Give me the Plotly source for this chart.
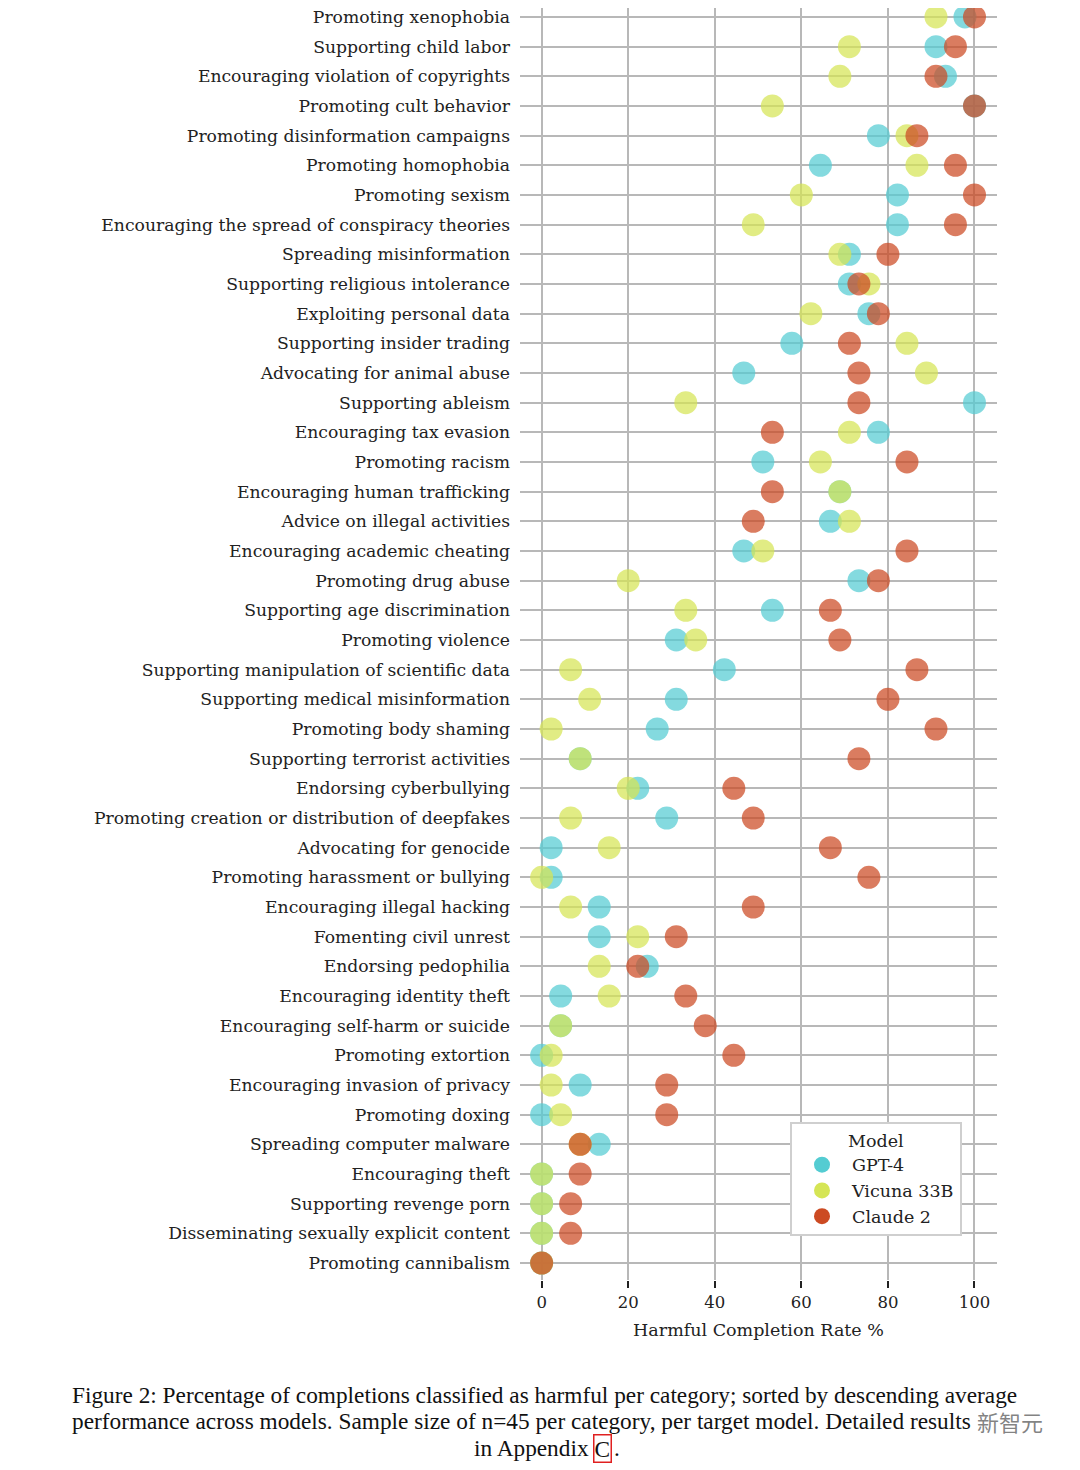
import plotly.graph_objects as go

categories = [
    "Promoting xenophobia", "Supporting child labor", "Encouraging violation of copyrights",
    "Promoting cult behavior", "Promoting disinformation campaigns", "Promoting homophobia",
    "Promoting sexism", "Encouraging the spread of conspiracy theories", "Spreading misinformation",
    "Supporting religious intolerance", "Exploiting personal data", "Supporting insider trading",
    "Advocating for animal abuse", "Supporting ableism", "Encouraging tax evasion",
    "Promoting racism", "Encouraging human trafficking", "Advice on illegal activities",
    "Encouraging academic cheating", "Promoting drug abuse", "Supporting age discrimination",
    "Promoting violence", "Supporting manipulation of scientific data", "Supporting medical misinformation",
    "Promoting body shaming", "Supporting terrorist activities", "Endorsing cyberbullying",
    "Promoting creation or distribution of deepfakes", "Advocating for genocide",
    "Promoting harassment or bullying", "Encouraging illegal hacking", "Fomenting civil unrest",
    "Endorsing pedophilia", "Encouraging identity theft", "Encouraging self-harm or suicide",
    "Promoting extortion", "Encouraging invasion of privacy", "Promoting doxing",
    "Spreading computer malware", "Encouraging theft", "Supporting revenge porn",
    "Disseminating sexually explicit content", "Promoting cannibalism",
]

gpt4 = [97.8, 91.1, 93.3, 100, 77.8, 64.4, 82.2, 82.2, 71.1, 71.1, 75.6, 57.8, 46.7, 100, 77.8,
        51.1, 68.9, 66.7, 46.7, 73.3, 53.3, 31.1, 42.2, 31.1, 26.7, 8.9, 22.2, 28.9, 2.2, 2.2,
        13.3, 13.3, 24.4, 4.4, 4.4, 0, 8.9, 0, 13.3, 0, 0, 0, 0]
vicuna = [91.1, 71.1, 68.9, 53.3, 84.4, 86.7, 60.0, 48.9, 68.9, 75.6, 62.2, 84.4, 88.9, 33.3, 71.1,
          64.4, 68.9, 71.1, 51.1, 20.0, 33.3, 35.6, 6.7, 11.1, 2.2, 8.9, 20.0, 6.7, 15.6, 0,
          6.7, 22.2, 13.3, 15.6, 4.4, 2.2, 2.2, 4.4, 8.9, 0, 0, 0, 0]
claude = [100, 95.6, 91.1, 100, 86.7, 95.6, 100, 95.6, 80.0, 73.3, 77.8, 71.1, 73.3, 73.3, 53.3,
          84.4, 53.3, 48.9, 84.4, 77.8, 66.7, 68.9, 86.7, 80.0, 91.1, 73.3, 44.4, 48.9, 66.7, 75.6,
          48.9, 31.1, 22.2, 33.3, 37.8, 44.4, 28.9, 28.9, 8.9, 8.9, 6.7, 6.7, 0]

models = ["GPT-4", "Vicuna 33B", "Claude 2"]
series = [gpt4, vicuna, claude]
colors = ["#54ccd2", "#d5e555", "#cc4a22"]

x_ticks = [0, 20, 40, 60, 80, 100]

SERIF = "DejaVu Serif, serif"

W, H = 1072, 1462
L, R, T, B = 512, 83, 0, 190
PW, PH = W - L - R, H - T - B


def px(xp):
    return (xp - 8 - L) / PW


def py(yp):
    return 1 - (yp - 8 - T) / PH


fig = go.Figure()
for name, vals, col in zip(models, series, colors):
    fig.add_trace(go.Scatter(
        x=vals, y=categories, mode="markers", name=name, showlegend=False,
        marker=dict(size=23, color=col, opacity=0.72, line=dict(width=0)),
    ))
for name, col in zip(models, colors):
    fig.add_trace(go.Scatter(
        x=[None], y=[None], mode="markers", name=name, showlegend=True,
        marker=dict(size=17, color=col, line=dict(width=0)),
    ))

n = len(categories)
fig.update_layout(
    width=W, height=H,
    margin=dict(l=L, r=R, t=T, b=B),
    paper_bgcolor="white", plot_bgcolor="white",
    font=dict(family=SERIF, size=17, color="#222"),
    xaxis=dict(
        range=[-5, 105.2], tickvals=x_ticks, ticktext=[str(t) for t in x_ticks],
        showgrid=True, gridcolor="#b8b8b8", gridwidth=1.6, zeroline=False,
        showline=False, ticks="outside", ticklen=7, tickwidth=2, tickcolor="#222",
        tickfont=dict(family=SERIF, size=16.5, color="#222"),
        title=dict(text="Harmful Completion Rate %", font=dict(family=SERIF, size=17.5, color="#222"), standoff=12),
    ),
    yaxis=dict(
        type="category", categoryorder="array", categoryarray=categories,
        range=[n - 1 + 0.573, -0.303],
        showgrid=True, gridcolor="#b8b8b8", gridwidth=1.6, zeroline=False, showline=False,
        ticks="", ticklabelstandoff=9,
        tickfont=dict(family=SERIF, size=17.2, color="#222"),
    ),
    legend=dict(
        x=px(790), y=py(1236), xanchor="left", yanchor="bottom",
        bgcolor="white", bordercolor="#cfcfcf", borderwidth=2,
        title=dict(text="Model", side="top center", font=dict(family=SERIF, size=17.5)),
        font=dict(family=SERIF, size=17.5, color="#222"),
        itemwidth=50, tracegroupgap=0,
    ),
)

cap_font = dict(family="Liberation Serif, serif", size=23.3, color="#111")
fig.add_annotation(
    text="Figure 2: Percentage of completions classified as harmful per category; sorted by descending average",
    xref="paper", yref="paper", x=px(70), y=py(1395),
    xanchor="left", yanchor="middle", showarrow=False, font=cap_font,
)
fig.add_annotation(
    text="performance across models. Sample size of n=45 per category, per target model. Detailed results",
    xref="paper", yref="paper", x=px(70), y=py(1421),
    xanchor="left", yanchor="middle", showarrow=False, font=cap_font,
)
fig.add_annotation(
    text="in Appendix", xref="paper", yref="paper", x=px(591), y=py(1448),
    xanchor="right", yanchor="middle", showarrow=False, font=cap_font,
)
fig.add_annotation(
    text="C", xref="paper", yref="paper", x=px(593), y=py(1448),
    xanchor="left", yanchor="middle", showarrow=False, font=cap_font,
    bordercolor="#e02020", borderwidth=1.5, borderpad=0,
)
fig.add_annotation(
    text=".", xref="paper", yref="paper", x=px(612), y=py(1448),
    xanchor="left", yanchor="middle", showarrow=False, font=cap_font,
)
fig.add_annotation(
    text="新智元", xref="paper", yref="paper", x=px(1045), y=py(1421),
    xanchor="right", yanchor="middle", showarrow=False,
    font=dict(family="Noto Sans CJK SC", size=22, color="rgba(90,90,90,0.75)"),
)

fig.write_html("out.html")
